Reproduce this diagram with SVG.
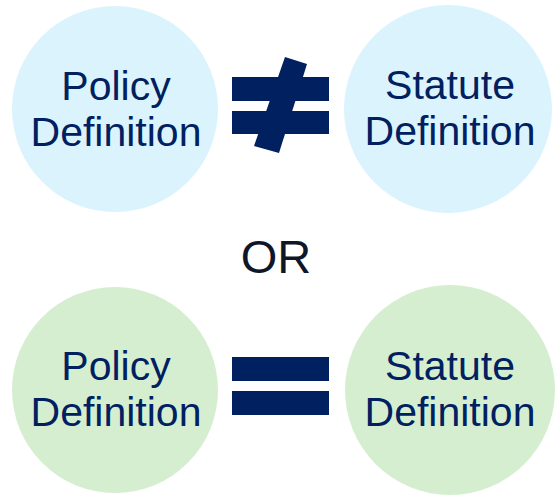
<svg xmlns="http://www.w3.org/2000/svg" width="556" height="495" viewBox="0 0 556 495">
<style>
.blue{fill:#DBF3FC}
.green{fill:#D6EED0}
.t{font-family:"Liberation Sans",Arial,sans-serif;font-size:41px;fill:#002060;text-anchor:middle}
.or{font-family:"Liberation Sans",Arial,sans-serif;font-size:47px;fill:#0E1628;text-anchor:middle}
.sym{fill:#002060}
</style>
<rect width="556" height="495" fill="#ffffff"/>
<g id="policy-top">
<circle class="blue" cx="115" cy="109" r="103"/>
<text class="t" x="116" y="100">Policy</text>
<text class="t" x="116" y="146">Definition</text>
</g>
<g id="statute-top">
<circle class="blue" cx="448" cy="109" r="104"/>
<text class="t" x="450" y="99">Statute</text>
<text class="t" x="450" y="145">Definition</text>
</g>
<g id="or">
<text class="or" x="276" y="273">OR</text>
</g>
<g id="policy-bottom">
<circle class="green" cx="115" cy="390" r="103"/>
<text class="t" x="116" y="380">Policy</text>
<text class="t" x="116" y="426">Definition</text>
</g>
<g id="statute-bottom">
<circle class="green" cx="450" cy="390" r="105"/>
<text class="t" x="450" y="380">Statute</text>
<text class="t" x="450" y="426">Definition</text>
</g>
<g id="not-equal">
<rect class="sym" x="232" y="77" width="97" height="24"/>
<rect class="sym" x="232" y="111" width="97" height="23"/>
<polygon class="sym" points="285,57 307,64 279,153 254,146"/>
</g>
<g id="equal">
<rect class="sym" x="232" y="357" width="97" height="24"/>
<rect class="sym" x="232" y="391" width="97" height="24"/>
</g>
</svg>
